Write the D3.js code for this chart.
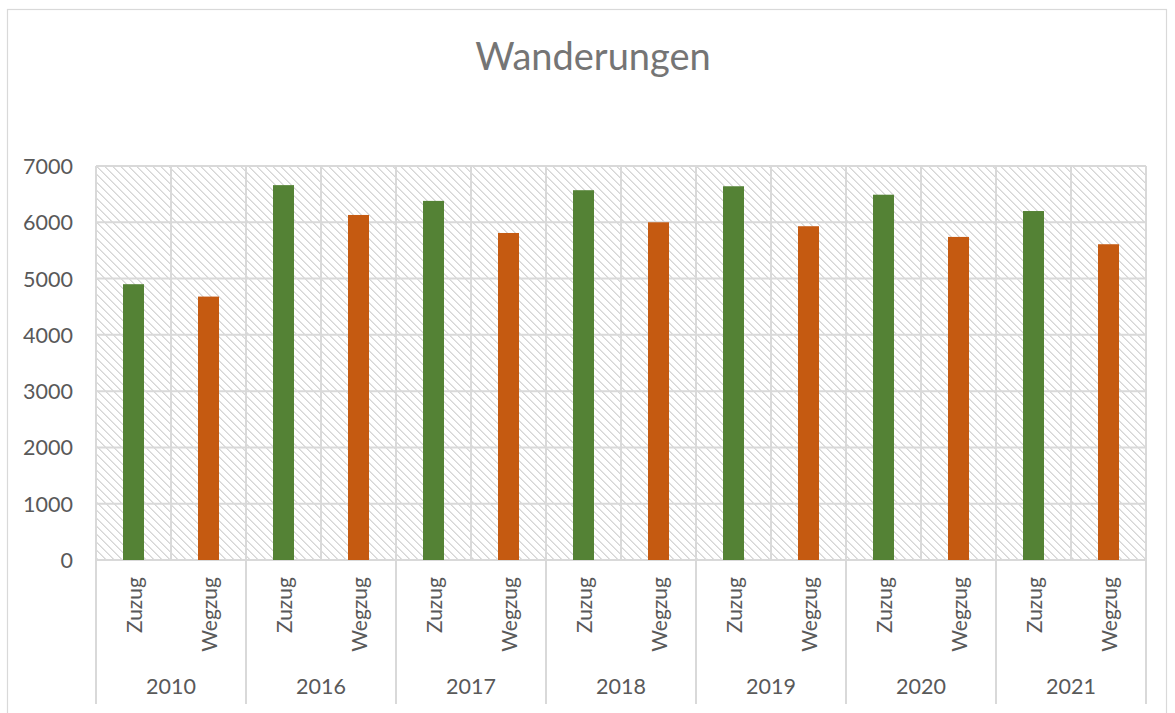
<!DOCTYPE html>
<html>
<head>
<meta charset="utf-8">
<script src="https://cdn.jsdelivr.net/npm/d3@7"></script>
<style>
  html, body { margin: 0; padding: 0; background: #fff; }
  svg { display: block; }
  text { font-family: Lato, "Open Sans", sans-serif; }
</style>
</head>
<body>
<svg id="chart" width="1175" height="713"></svg>
<script>
const years = ["2010", "2016", "2017", "2018", "2019", "2020", "2021"];
const types = ["Zuzug", "Wegzug"];
const zuzug = [4900, 6660, 6380, 6570, 6640, 6490, 6200];
const wegzug = [4680, 6130, 5810, 6000, 5930, 5740, 5610];
const yTicks = [0, 1000, 2000, 3000, 4000, 5000, 6000, 7000];
const colors = { Zuzug: "#548235", Wegzug: "#C55A11" };

const rows = [];
years.forEach((y, i) => {
  rows.push({ year: y, type: "Zuzug", value: zuzug[i], key: y + "|Zuzug" });
  rows.push({ year: y, type: "Wegzug", value: wegzug[i], key: y + "|Wegzug" });
});

const svg = d3.select("#chart");
const plot = { left: 96, right: 1146, top: 166, bottom: 560 };

// outer chart border
svg.append("rect").attr("x", 7.5).attr("y", 9.5).attr("width", 1159).attr("height", 712)
  .attr("fill", "#fff").attr("stroke", "#d9d9d9").attr("stroke-width", 1.2);

// hatch pattern
const defs = svg.append("defs");
const pat = defs.append("pattern").attr("id", "hatch").attr("patternUnits", "userSpaceOnUse")
  .attr("width", 8).attr("height", 8).attr("x", plot.left).attr("y", plot.top);
pat.append("rect").attr("width", 8).attr("height", 8).attr("fill", "#fff");
for (let i = 0; i < 8; i++) {
  pat.append("rect").attr("x", i).attr("y", i).attr("width", 1).attr("height", 1).attr("fill", "#d6d6d6");
  pat.append("rect").attr("x", (i + 1) % 8).attr("y", i).attr("width", 1).attr("height", 1).attr("fill", "#e4e4e4");
}

const x = d3.scaleBand().domain(rows.map(d => d.key)).range([plot.left, plot.right]).paddingInner(0).paddingOuter(0);
const xYear = d3.scaleBand().domain(years).range([plot.left, plot.right]);
const y = d3.scaleLinear().domain([0, 7000]).range([plot.bottom, plot.top]);

// title
svg.append("text").attr("x", 593).attr("y", 70).attr("text-anchor", "middle")
  .attr("font-size", 38).attr("fill", "#757575").text("Wanderungen");

// plot background
svg.append("rect").attr("x", plot.left).attr("y", plot.top)
  .attr("width", plot.right - plot.left).attr("height", plot.bottom - plot.top)
  .attr("fill", "url(#hatch)");

// horizontal gridlines
svg.append("g").selectAll("line").data(yTicks).join("line")
  .attr("x1", plot.left).attr("x2", plot.right)
  .attr("y1", d => y(d)).attr("y2", d => y(d))
  .attr("stroke", "#d9d9d9").attr("stroke-width", 2);

// vertical gridlines inside plot
const boundaries = rows.map(d => x(d.key)).concat([plot.right]);
svg.append("g").selectAll("line").data(boundaries).join("line")
  .attr("x1", d => d).attr("x2", d => d)
  .attr("y1", plot.top).attr("y2", plot.bottom)
  .attr("stroke", "#d9d9d9").attr("stroke-width", 2);

// bars
const bw = 21;
svg.append("g").selectAll("rect").data(rows).join("rect")
  .attr("x", d => x(d.key) + x.bandwidth() / 2 - bw / 2)
  .attr("width", bw)
  .attr("y", d => y(d.value))
  .attr("height", d => y(0) - y(d.value))
  .attr("fill", d => colors[d.type]);

// y axis labels
const yAxis = d3.axisLeft(y).tickValues(yTicks).tickSize(0).tickPadding(0).tickFormat(d3.format("d"));
const gy = svg.append("g").attr("transform", `translate(73,0)`).call(yAxis);
gy.select(".domain").remove();
gy.selectAll("text").attr("font-size", 21.5).attr("fill", "#595959")
  .attr("font-family", "Lato, 'Open Sans', sans-serif").attr("dy", "0.35em");

// group divider lines below plot
const yearBounds = years.map(yy => xYear(yy)).concat([plot.right]);
svg.append("g").selectAll("line").data(yearBounds).join("line")
  .attr("x1", d => d).attr("x2", d => d)
  .attr("y1", plot.bottom).attr("y2", 704)
  .attr("stroke", "#d9d9d9").attr("stroke-width", 2);

// category labels (rotated)
svg.append("g").selectAll("text").data(rows).join("text")
  .attr("transform", d => `translate(${x(d.key) + x.bandwidth() / 2 + 8},577) rotate(-90)`)
  .attr("text-anchor", "end")
  .attr("font-size", 21).attr("fill", "#595959")
  .text(d => d.type);

// year labels
svg.append("g").selectAll("text").data(years).join("text")
  .attr("x", d => xYear(d) + xYear.bandwidth() / 2)
  .attr("y", 694).attr("text-anchor", "middle")
  .attr("font-size", 21.5).attr("fill", "#595959")
  .text(d => d);
</script>
</body>
</html>
